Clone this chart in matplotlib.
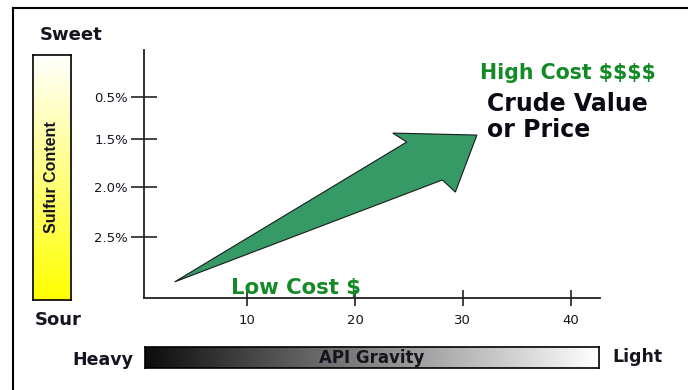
import numpy as np
import matplotlib.pyplot as plt
from matplotlib.patches import Polygon
from matplotlib.lines import Line2D

plt.rcParams['text.parse_math'] = False

# ---- data ----
api_ticks = [10, 20, 30, 40]
api_range = (0.46, 42.7)
sulfur_labels = ['0.5%', '1.5%', '2.0%', '2.5%']
sulfur_pos = [0.81, 0.641, 0.448, 0.246]      # axis-fraction height of each sulfur level
arrow_x = [3.3, 24.8, 23.5, 31.3, 29.3, 28.1]   # tail, shaft top, barb, tip, barb, shaft bottom
arrow_y = [0.065, 0.629, 0.665, 0.657, 0.427, 0.476]

W, H = 688, 390
fig = plt.figure(figsize=(W / 100, H / 100), dpi=100)


def box(l, t, r, b):
    return [l / W, 1 - b / H, (r - l) / W, (b - t) / H]


def fx(px):
    return px / W


def fy(py):
    return 1 - py / H


TXT = '#15151f'
GREEN = '#138a26'
FONT = ['DejaVu Sans']

# outer frame (left and top edges)
fig.add_artist(Line2D([fx(13), fx(13)], [0, fy(8)], color='black', lw=1.5))
fig.add_artist(Line2D([fx(13), 1], [fy(8), fy(8)], color='black', lw=1.5))

# ---- main plot ----
ax = fig.add_axes(box(144, 50, 600, 298))
ax.set_xlim(*api_range)
ax.set_ylim(0, 1)
for s in ('top', 'right'):
    ax.spines[s].set_visible(False)
for s in ('left', 'bottom'):
    ax.spines[s].set_linewidth(1.3)
    ax.spines[s].set_color('#222222')
ax.set_xticks(api_ticks)
ax.set_xticklabels([str(v) for v in api_ticks])
ax.set_yticks(sulfur_pos)
ax.set_yticklabels(sulfur_labels)
ax.tick_params(axis='x', direction='inout', length=11, width=1.2, pad=6,
               labelsize=9.5, colors='#222222', labelcolor=TXT)
ax.tick_params(axis='y', direction='inout', length=19, width=1.2, pad=2,
               labelsize=9.5, colors='#222222', labelcolor=TXT)
ax.patch.set_alpha(0)

arrow = Polygon(np.column_stack([arrow_x, arrow_y]), closed=True,
                facecolor='#369a66', edgecolor='#1a1a1a', linewidth=0.8, zorder=3)
ax.add_patch(arrow)

# ---- sulfur gradient bar ----
sax = fig.add_axes(box(33, 55, 71, 300))
grad = np.linspace(0, 1, 256).reshape(-1, 1)
yel = np.zeros((256, 1, 3))
yel[..., 0] = 1.0
yel[..., 1] = 1.0
yel[..., 2] = grad
sax.imshow(yel, aspect='auto', extent=(0, 1, 0, 1), origin='lower')
sax.set_xticks([])
sax.set_yticks([])
for s in sax.spines.values():
    s.set_linewidth(1.2)
sax.text(0.5, 0.5, 'Sulfur Content', rotation=90, ha='center', va='center',
         fontsize=11.5, fontweight='bold', color=TXT, transform=sax.transAxes,
         family=['Liberation Sans'])

# ---- API gravity gradient bar ----
gax = fig.add_axes(box(145, 347, 599, 368))
gray = np.linspace(0.05, 1, 256).reshape(1, -1)
gax.imshow(np.dstack([gray, gray, gray]), aspect='auto', extent=(0, 1, 0, 1))
gax.set_xticks([])
gax.set_yticks([])
for s in gax.spines.values():
    s.set_linewidth(1.2)
gax.text(0.5, 0.48, 'API Gravity', ha='center', va='center', fontsize=12,
         fontweight='bold', color=TXT, transform=gax.transAxes, family=FONT)

# ---- labels ----
fig.text(fx(40), fy(35), 'Sweet', ha='left', va='center', fontsize=13,
         fontweight='bold', color=TXT, family=FONT)
fig.text(fx(35), fy(320), 'Sour', ha='left', va='center', fontsize=13,
         fontweight='bold', color=TXT, family=FONT)
fig.text(fx(72), fy(360), 'Heavy', ha='left', va='center', fontsize=12.5,
         fontweight='bold', color=TXT, family=FONT)
fig.text(fx(612), fy(357), 'Light', ha='left', va='center', fontsize=12.5,
         fontweight='bold', color=TXT, family=FONT)
fig.text(fx(231), fy(288), 'Low Cost $', ha='left', va='center', fontsize=15.3,
         fontweight='bold', color=GREEN, family=FONT)
fig.text(fx(480), fy(73), 'High Cost $$$$', ha='left', va='center', fontsize=14.8,
         fontweight='bold', color=GREEN, family=FONT)
fig.text(fx(487), fy(117), 'Crude Value\nor Price', ha='left', va='center',
         fontsize=17, fontweight='bold', color='#0a0a14', family=FONT,
         linespacing=1.1)

fig.savefig('out.png', dpi=100)
